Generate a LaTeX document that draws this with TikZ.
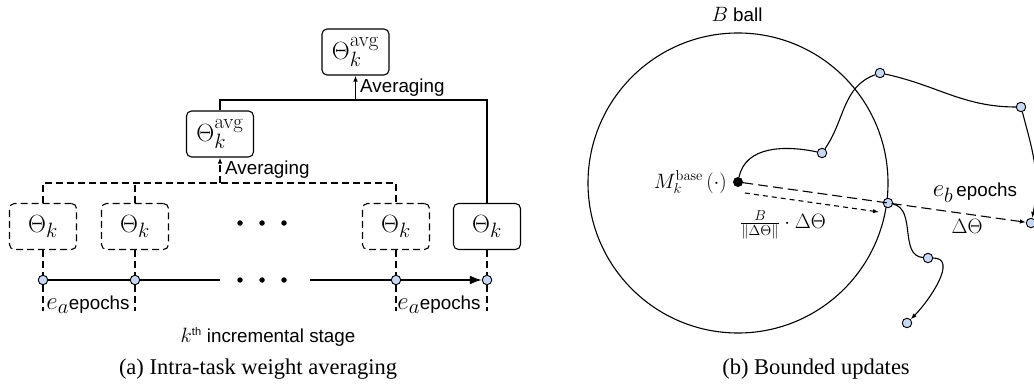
\documentclass[tikz,border=0pt]{standalone}
\usepackage[no-math]{fontspec}
\newfontfamily\sfont{Liberation Sans}
\newfontfamily\capfont{Liberation Serif}
\usetikzlibrary{arrows.meta,calc}
\DeclareMathSizes{24.88}{24.88}{20.74}{14.4}
\definecolor{ptblue}{RGB}{200,216,242}
\tikzset{
  lbl/.style={font=\fontsize{18.8}{22}\selectfont\sfont, inner sep=0pt},
  mth/.style={font=\fontsize{20.74}{25}\selectfont, inner sep=0pt},
  captext/.style={font=\fontsize{22.5}{27}\selectfont\capfont, inner sep=0pt},
  wbox/.style={draw, rounded corners=5pt, minimum width=67pt, minimum height=46pt, inner sep=0pt, line width=1.1pt, font=\fontsize{24.88}{28}\selectfont},
  dbox/.style={wbox, dash pattern=on 7pt off 4pt},
  dl/.style={line width=1.1pt, dash pattern=on 7pt off 4pt},
  sl/.style={line width=1.1pt},
  pt/.style={circle, draw, fill=ptblue, minimum size=9.5pt, inner sep=0pt, line width=0.9pt},
  bdot/.style={circle, fill=black, minimum size=5.5pt, inner sep=0pt},
  tip/.style={-{Latex[length=6pt,width=4.5pt]}},
}
\newcommand{\sizedmath}[2]{{\fontsize{#1}{#1}\selectfont$#2$}}
\begin{document}
\begin{tikzpicture}[x=1pt,y=1pt]
\useasboundingbox (0,0) rectangle (1034,-385);
% ---------------- left panel ----------------
\node[wbox] (T2) at (355.5,-52) {$\Theta_k^{\mathrm{avg}}$};
\node[wbox] (T1) at (220,-134) {$\Theta_k^{\mathrm{avg}}$};
\node[dbox] (B1) at (43,-226.5) {$\Theta_k$};
\node[dbox] (B2) at (135,-226.5) {$\Theta_k$};
\node[dbox] (B3) at (396,-226.5) {$\Theta_k$};
\node[wbox] (B4) at (487,-226.5) {$\Theta_k$};
\coordinate (J1) at (220,-183);
\coordinate (J2) at (355.5,-100);
\draw[dl] (B1.north) -- (B1.north |- J1) -- (B3.north |- J1) -- (B3.north);
\draw[dl] (B2.north) -- (B2.north |- J1);
\draw[dl,tip] (J1) -- (T1.south);
\draw[sl] (T1.north) -- (T1.north |- J2) -- (B4.north |- J2) -- (B4.north);
\draw[sl,tip] (J2) -- (T2.south);
\node[lbl, anchor=west] (A2) at (360,-88) {Averaging};
\node[lbl, anchor=west] (A1) at (225,-170) {Averaging};
% timeline
\node[pt] (C1) at (43,-280) {};
\node[pt] (C2) at (135,-280) {};
\node[pt] (C3) at (396,-280) {};
\node[pt] (C4) at (487,-280) {};
\coordinate (L1) at (220,-280);
\coordinate (L2) at (310,-280);
\draw[line width=1.7pt] (C1) -- (C2) -- (L1);
\draw[line width=1.7pt] (L2) -- (C3);
\draw[line width=1.7pt,-{Latex[length=12pt,width=9pt]}] (C3) -- (C4);
\foreach \i/\x in {1/240,2/262,3/284}{
  \node[bdot] (du\i) at (\x,-223) {};
  \node[bdot] (dd\i) at (\x,-280) {};
}
\coordinate (D1) at (43,-311);
\coordinate (D2) at (135,-311);
\coordinate (D3) at (396,-311);
\coordinate (D4) at (487,-311);
\draw[dl] (B1.south) -- (C1) -- (D1);
\draw[dl] (B2.south) -- (C2) -- (D2);
\draw[dl] (B3.south) -- (C3) -- (D3);
\draw[dl] (B4.south) -- (C4) -- (D4);
\node[lbl] (E1) at (88,-305) {\sizedmath{24.88}{e_a}epochs};
\node[lbl] (E2) at (439,-305) {\sizedmath{24.88}{e_a}epochs};
\node[lbl] (K) at (268,-337) {\sizedmath{20.74}{k^{\mbox{\fontsize{11}{11}\selectfont th}}} incremental stage};
\node[captext] (capa) at (258,-369) {(a) Intra-task weight averaging};
% ---------------- right panel ----------------
\node[lbl] (BB) at (737,-15) {\sizedmath{20.74}{B} ball};
\node[circle, draw, line width=1.1pt, minimum size=300pt, inner sep=0pt] (ball) at (738,-183) {};
\node[circle, fill=black, minimum size=10pt, inner sep=0pt] (M) at (738,-182) {};
\node[anchor=east, font=\fontsize{20.74}{24}\selectfont, inner sep=0pt] (ML) at (727,-182) {$M_k^{\mathrm{base}}\,(\cdot)$};
\node[pt] (P1) at (822,-153) {};
\node[pt] (P2) at (880,-73) {};
\node[pt] (P3) at (1021,-107) {};
\node[pt] (P4) at (1031,-223) {};
\node[pt] (Q) at (888,-203) {};
\node[pt] (R1) at (928,-258) {};
\node[pt] (R2) at (907,-323) {};
\draw[sl] (M) to[out=78,in=168] (P1);
\draw[sl] (P1) to[out=55,in=200] (P2);
\draw[sl] (P2) to[out=-12,in=180] (P3);
\draw[sl,tip] (P3) to[out=-75,in=78] (P4);
\draw[sl] (Q) to[out=-12,in=175] (R1);
\draw[sl,tip] (R1) to[out=0,in=45] (R2);
\draw[line width=1.1pt, dash pattern=on 10pt off 5pt, tip] (M) -- (P4);
\coordinate (S1) at (745,-193);
\coordinate (S2) at (879,-212);
\draw[line width=1.1pt, dash pattern=on 5pt off 4pt, tip] (S1) -- (S2);
\node[lbl] (EB) at (975,-193) {\sizedmath{24.88}{e_b}\,epochs};
\node[mth] (DT) at (967,-226) {$\Delta\Theta$};
\node[font=\fontsize{20.74}{24}\selectfont, inner sep=0pt] (FR) at (783,-225) {$\frac{B}{\|\Delta\Theta\|}\cdot\Delta\Theta$};
\node[captext] (capb) at (816,-369) {(b) Bounded updates};
\end{tikzpicture}
\end{document}
